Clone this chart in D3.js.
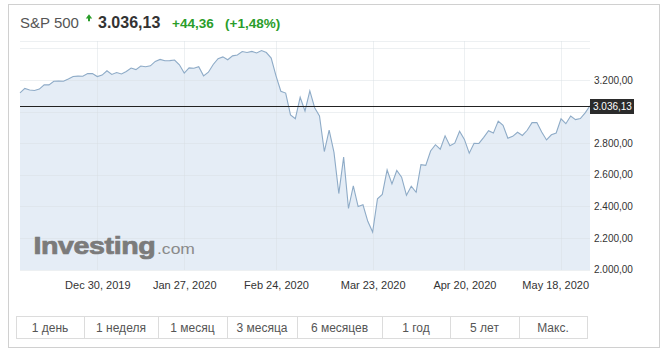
<!DOCTYPE html>
<html>
<head>
<meta charset="utf-8">
<script src="https://cdnjs.cloudflare.com/ajax/libs/d3/7.8.5/d3.min.js"></script>
<style>
  html, body { margin: 0; padding: 0; background: #fff; }
  svg { display: block; font-family: Arial, "Liberation Sans", sans-serif; }
</style>
</head>
<body>
<svg id="chart" width="665" height="357"></svg>
<script>
// ---- data (S&P 500 daily closes, trading days) ----
const dates = [
  "2019-12-05","2019-12-06","2019-12-09","2019-12-10","2019-12-11","2019-12-12","2019-12-13","2019-12-16","2019-12-17","2019-12-18",
  "2019-12-19","2019-12-20","2019-12-23","2019-12-24","2019-12-26","2019-12-27","2019-12-30","2019-12-31",
  "2020-01-02","2020-01-03","2020-01-06","2020-01-07","2020-01-08","2020-01-09","2020-01-10","2020-01-13","2020-01-14","2020-01-15",
  "2020-01-16","2020-01-17","2020-01-21","2020-01-22","2020-01-23","2020-01-24","2020-01-27","2020-01-28","2020-01-29","2020-01-30","2020-01-31",
  "2020-02-03","2020-02-04","2020-02-05","2020-02-06","2020-02-07","2020-02-10","2020-02-11","2020-02-12","2020-02-13","2020-02-14",
  "2020-02-18","2020-02-19","2020-02-20","2020-02-21","2020-02-24","2020-02-25","2020-02-26","2020-02-27","2020-02-28",
  "2020-03-02","2020-03-03","2020-03-04","2020-03-05","2020-03-06","2020-03-09","2020-03-10","2020-03-11","2020-03-12","2020-03-13",
  "2020-03-16","2020-03-17","2020-03-18","2020-03-19","2020-03-20","2020-03-23","2020-03-24","2020-03-25","2020-03-26","2020-03-27",
  "2020-03-30","2020-03-31",
  "2020-04-01","2020-04-02","2020-04-03","2020-04-06","2020-04-07","2020-04-08","2020-04-09","2020-04-13","2020-04-14","2020-04-15",
  "2020-04-16","2020-04-17","2020-04-20","2020-04-21","2020-04-22","2020-04-23","2020-04-24","2020-04-27","2020-04-28","2020-04-29","2020-04-30",
  "2020-05-01","2020-05-04","2020-05-05","2020-05-06","2020-05-07","2020-05-08","2020-05-11","2020-05-12","2020-05-13","2020-05-14",
  "2020-05-15","2020-05-18","2020-05-19","2020-05-20","2020-05-21","2020-05-22","2020-05-26","2020-05-27"
];
const closes = [
  3117.43,3145.91,3135.96,3132.52,3141.63,3168.57,3168.80,3191.45,3192.52,3191.14,
  3205.37,3221.22,3224.01,3223.38,3239.91,3240.02,3221.29,3230.78,
  3257.85,3234.85,3246.28,3237.18,3253.05,3274.70,3265.35,3288.13,3283.15,3289.29,
  3316.81,3329.62,3320.79,3321.75,3325.54,3295.47,3243.63,3276.24,3273.40,3283.66,3225.52,
  3248.92,3297.59,3334.69,3345.78,3327.71,3352.09,3357.75,3379.45,3373.94,3380.16,
  3370.29,3386.15,3373.23,3337.75,3225.89,3128.21,3116.39,2978.76,2954.22,
  3090.23,3003.37,3130.12,3023.94,2972.37,2746.56,2882.23,2741.38,2480.64,2711.02,
  2386.13,2529.19,2398.10,2409.39,2304.92,2237.40,2447.33,2475.56,2630.07,2541.47,
  2626.65,2584.59,
  2470.50,2526.90,2488.65,2663.68,2659.41,2749.98,2789.82,2761.63,2846.06,2783.36,
  2799.55,2874.56,2823.16,2736.56,2799.31,2797.80,2836.74,2878.48,2863.39,2939.51,2912.43,
  2830.71,2842.74,2868.44,2848.42,2881.19,2929.80,2930.32,2870.12,2820.00,2852.50,
  2863.70,2953.91,2922.94,2971.61,2948.51,2955.45,2991.77,3036.13
];
const yTickValues = [2000, 2200, 2400, 2600, 2800, 3000, 3200];
const yGridValues = [2000, 2200, 2400, 2600, 2800, 3000, 3200, 3400];
const xTickDates = ["2019-12-30","2020-01-27","2020-02-24","2020-03-23","2020-04-20","2020-05-18"];
const xTickLabels = ["Dec 30, 2019","Jan 27, 2020","Feb 24, 2020","Mar 23, 2020","Apr 20, 2020","May 18, 2020"];
const lastPrice = 3036.13;
const headerName = "S&P 500";
const headerPrice = "3.036,13";
const headerChange = "+44,36";
const headerPct = "(+1,48%)";
const rangeButtons = ["1 день","1 неделя","1 месяц","3 месяца","6 месяцев","1 год","5 лет","Макс."];

// ---- layout ----
const plotL = 20, plotR = 590, plotT = 41, plotB = 270;
const svg = d3.select("#chart");
const ru = d3.formatLocale({decimal: ",", thousands: ".", grouping: [3], currency: ["", ""]});
const fmt = ru.format(",.2f");

const x = d3.scalePoint().domain(dates).range([plotL, plotR]);
const y = d3.scaleLinear().domain([2000, 3200]).range([269.5, 79.9]);

// outer frame
svg.append("rect").attr("x", 8.5).attr("y", 4.5).attr("width", 651).attr("height", 343)
  .attr("fill", "none").attr("stroke", "#d0d0d0");

// header
const hdr = svg.append("g");
hdr.append("text").attr("x", 20).attr("y", 27.5).attr("font-size", 15).attr("fill", "#555").text(headerName);
hdr.append("path").attr("d", "M85.8,18.6 L89,14.2 L92.2,18.6 Z M88,18 H90 V21.2 H88 Z").attr("fill", "#2a9d2a");
hdr.append("text").attr("x", 98).attr("y", 27.5).attr("font-size", 16).attr("font-weight", "bold").attr("fill", "#333").text(headerPrice);
hdr.append("text").attr("x", 172).attr("y", 27.5).attr("font-size", 13.5).attr("font-weight", "bold").attr("fill", "#2a9d2a").text(headerChange);
hdr.append("text").attr("x", 225).attr("y", 27.5).attr("font-size", 13.5).attr("font-weight", "bold").attr("fill", "#2a9d2a").text(headerPct);

// area fill
const area = d3.area().x((d, i) => x(dates[i])).y0(plotB).y1(d => y(d));
svg.append("path").datum(closes).attr("d", area).attr("fill", "#e5edf6");

// grid
const grid = svg.append("g").attr("stroke", "#d8dde3").attr("stroke-opacity", 0.45).attr("shape-rendering", "crispEdges");
grid.selectAll("line.h").data(yGridValues).join("line")
  .attr("x1", plotL).attr("x2", plotR).attr("y1", d => Math.round(y(d)) + 0.5).attr("y2", d => Math.round(y(d)) + 0.5);
grid.selectAll("line.v").data(xTickDates).join("line")
  .attr("x1", d => Math.round(x(d)) + 0.5).attr("x2", d => Math.round(x(d)) + 0.5).attr("y1", plotT).attr("y2", plotB);
grid.append("line").attr("x1", plotL).attr("x2", plotR).attr("y1", plotT + 0.5).attr("y2", plotT + 0.5);

// price line
const line = d3.line().x((d, i) => x(dates[i])).y(d => y(d));
svg.append("path").datum(closes).attr("d", line).attr("fill", "none").attr("stroke", "#8eabc7").attr("stroke-width", 1.1);

// watermark logo (scaled to fit its box)
function fitText(sel, left, baseline, targetW, targetCap, size) {
  const node = sel.node();
  const w = node.getComputedTextLength();
  const sx = targetW / w, sy = targetCap / (size * 0.716);
  sel.attr("x", 0).attr("y", 0).attr("transform", `translate(${left},${baseline}) scale(${sx},${sy})`);
}
const logo = svg.append("g");
const inv = logo.append("text").attr("font-size", 22).attr("font-weight", "bold")
  .attr("fill", "#7b7b7b").attr("stroke", "#7b7b7b").attr("stroke-width", 0.7).attr("letter-spacing", -0.3).text("Investing");
fitText(inv, 33.5, 254, 122, 16.5, 22);
const com = logo.append("text").attr("font-size", 16).attr("fill", "#8a8a8a").text(".com");
fitText(com, 157, 254, 38, 11, 16);

// last price reference line
const yl = Math.round(y(lastPrice)) + 0.5;
svg.append("line").attr("x1", plotL).attr("x2", plotR).attr("y1", yl).attr("y2", yl).attr("stroke", "#222").attr("stroke-width", 1);

// y axis
const yAxis = svg.append("g").attr("transform", `translate(${plotR},0)`)
  .call(d3.axisRight(y).tickValues(yTickValues).tickSize(0).tickPadding(4).tickFormat(fmt));
yAxis.select(".domain").remove();
yAxis.selectAll("text").attr("font-size", 10).attr("fill", "#333").attr("font-family", "Arial, 'Liberation Sans', sans-serif");
yAxis.selectAll(".tick").filter(d => d === 3000).remove();

// price label box
svg.append("rect").attr("x", plotR).attr("y", yl - 7.5).attr("width", 44).attr("height", 15).attr("fill", "#2b2b2b");
svg.append("text").attr("x", plotR + 3).attr("y", yl + 3.8).attr("font-size", 10).attr("fill", "#fff").text(fmt(lastPrice));

// x axis
const xAxis = svg.append("g").attr("transform", `translate(0,${plotB + 8})`)
  .call(d3.axisBottom(x).tickValues(xTickDates).tickSize(0).tickPadding(3).tickFormat((d, i) => xTickLabels[i]));
xAxis.select(".domain").remove();
xAxis.selectAll("text").attr("font-size", 11).attr("fill", "#333").attr("font-family", "Arial, 'Liberation Sans', sans-serif");
xAxis.selectAll(".tick text").each(function() {
  const t = d3.select(this);
  const bb = this.getBBox();
  const tr = d3.select(this.parentNode).attr("transform");
  const tx = +/translate\(([-\d.]+)/.exec(tr)[1];
  const right = tx + bb.x + bb.width;
  if (right > plotR - 1) t.attr("x", (plotR - 1) - right);
});

// range buttons
const btnEdges = [16, 84, 158, 227, 297, 382, 450, 519, 587];
const btns = svg.append("g");
btns.append("rect").attr("x", 16.5).attr("y", 316.5).attr("width", 571).attr("height", 22)
  .attr("fill", "#fff").attr("stroke", "#dcdcdc");
btns.selectAll("line").data(btnEdges.slice(1, -1)).join("line")
  .attr("x1", d => d + 0.5).attr("x2", d => d + 0.5).attr("y1", 316.5).attr("y2", 338.5).attr("stroke", "#dcdcdc");
btns.selectAll("text").data(rangeButtons).join("text")
  .attr("x", (d, i) => (btnEdges[i] + btnEdges[i + 1]) / 2).attr("y", 331.5)
  .attr("text-anchor", "middle").attr("font-size", 12).attr("fill", "#555").text(d => d);
</script>
</body>
</html>
